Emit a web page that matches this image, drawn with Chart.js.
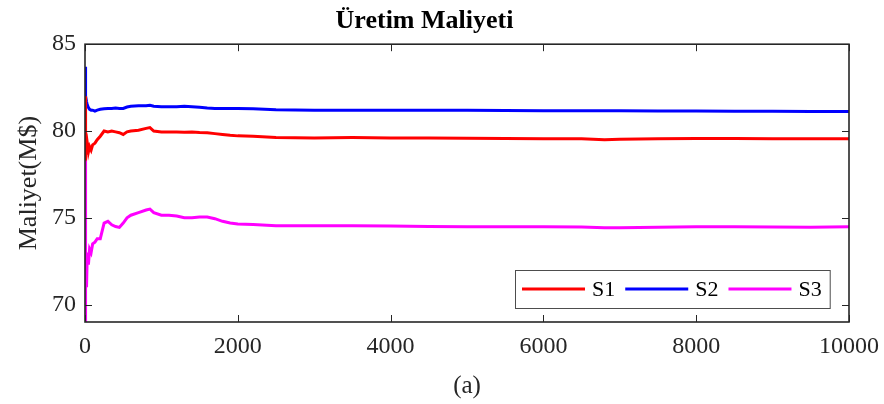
<!DOCTYPE html>
<html>
<head>
<meta charset="utf-8">
<title>Üretim Maliyeti</title>
<script src="https://cdn.jsdelivr.net/npm/chart.js@4.4.1/dist/chart.umd.min.js"></script>
<style>
  body { margin: 0; background: #fff; }
  #wrap { width: 884px; height: 404px; }
</style>
</head>
<body>
<div id="wrap"><canvas id="costChart" width="884" height="404"></canvas></div>
<script>
// iterations (x)
const iters = [0, 5, 10, 20, 30, 45, 60, 80, 100, 130, 160, 200, 250, 300, 350, 400, 450, 500, 550, 600,
  700, 800, 850, 900, 1000, 1100, 1200, 1300, 1400, 1500, 1600, 1700, 1800, 1900, 2000, 2200, 2500,
  3000, 3500, 4000, 4500, 5000, 5500, 6000, 6500, 6800, 7000, 7500, 8000, 8500, 9000, 9500, 10000];

const s1 = [82.0, 78.3, 79.8, 79.0, 79.3, 78.8, 79.1, 78.9, 79.2, 79.3, 79.5, 79.7, 80.0, 79.95, 80.0, 79.95, 79.9, 79.8, 79.95, 80.0,
  80.05, 80.15, 80.2, 80.0, 79.95, 79.95, 79.95, 79.93, 79.95, 79.92, 79.9, 79.85, 79.8, 79.75, 79.72, 79.7, 79.62,
  79.6, 79.62, 79.6, 79.6, 79.58, 79.57, 79.56, 79.55, 79.5, 79.52, 79.55, 79.57, 79.57, 79.56, 79.55, 79.55];

const s2 = [83.7, 82.4, 82.0, 81.7, 81.5, 81.35, 81.25, 81.2, 81.2, 81.15, 81.2, 81.25, 81.28, 81.3, 81.3, 81.32, 81.3, 81.3, 81.38, 81.42,
  81.45, 81.45, 81.48, 81.43, 81.4, 81.4, 81.4, 81.42, 81.4, 81.37, 81.33, 81.3, 81.3, 81.3, 81.3, 81.28, 81.22,
  81.2, 81.2, 81.2, 81.2, 81.2, 81.18, 81.17, 81.17, 81.16, 81.16, 81.15, 81.15, 81.14, 81.14, 81.13, 81.13];

const s3 = [79.4, 69.0, 72.0, 71.0, 73.0, 72.3, 73.2, 73.0, 73.5, 73.6, 73.8, 73.8, 74.7, 74.8, 74.6, 74.5, 74.45, 74.7, 75.0, 75.15,
  75.3, 75.45, 75.5, 75.3, 75.15, 75.15, 75.1, 75.0, 75.0, 75.05, 75.05, 74.95, 74.8, 74.7, 74.65, 74.62, 74.55,
  74.55, 74.55, 74.53, 74.5, 74.48, 74.48, 74.48, 74.47, 74.43, 74.43, 74.46, 74.48, 74.48, 74.47, 74.46, 74.48];

const seriesNames = ['S1', 'S2', 'S3'];
const seriesColors = ['#ff0000', '#0000ff', '#ff00ff'];
const xTicks = [0, 2000, 4000, 6000, 8000, 10000];
const yTicks = [70, 75, 80, 85];

const serif = "'Liberation Serif', 'Times New Roman', serif";
const axisColor = '#262626';

// box round the plot, inward ticks on all four sides, legend inside bottom right
const matlabAxes = {
  id: 'matlabAxes',
  afterDatasetsDraw(chart) {
    const { ctx, chartArea: a, scales } = chart;
    const len = 7;
    ctx.save();
    ctx.strokeStyle = axisColor;
    ctx.lineWidth = 1;
    ctx.beginPath();
    scales.x.ticks.forEach(t => {
      const px = Math.round(scales.x.getPixelForValue(t.value)) + 0.5;
      ctx.moveTo(px, a.bottom); ctx.lineTo(px, a.bottom - len);
      ctx.moveTo(px, a.top); ctx.lineTo(px, a.top + len);
    });
    scales.y.ticks.forEach(t => {
      const py = Math.round(scales.y.getPixelForValue(t.value)) + 0.5;
      ctx.moveTo(a.left, py); ctx.lineTo(a.left + len, py);
      ctx.moveTo(a.right, py); ctx.lineTo(a.right - len, py);
    });
    ctx.stroke();
    ctx.lineWidth = 1.6;
    ctx.strokeRect(a.left, a.top, a.right - a.left, a.bottom - a.top);

    // legend
    ctx.font = '22px ' + serif;
    const lineLen = 63, padL = 7, gapText = 7, gapItem = 10, padR = 8, h = 38;
    let w = padL + padR;
    chart.data.datasets.forEach((ds, i) => {
      w += lineLen + gapText + ctx.measureText(ds.label).width + (i > 0 ? gapItem : 0);
    });
    const bx = Math.round(a.right - 19 - w), by = Math.round(a.bottom - 14 - h);
    ctx.fillStyle = '#fff';
    ctx.fillRect(bx, by, w, h);
    ctx.strokeStyle = '#4d4d4d';
    ctx.lineWidth = 1;
    ctx.strokeRect(bx + 0.5, by + 0.5, w, h);
    let cx = bx + padL;
    const cy = by + h / 2;
    ctx.textBaseline = 'middle';
    chart.data.datasets.forEach((ds, i) => {
      if (i > 0) cx += gapItem;
      ctx.strokeStyle = ds.borderColor;
      ctx.lineWidth = 3;
      ctx.beginPath();
      ctx.moveTo(cx, cy); ctx.lineTo(cx + lineLen, cy);
      ctx.stroke();
      cx += lineLen + gapText;
      ctx.fillStyle = '#000';
      ctx.fillText(ds.label, cx, cy + 1);
      cx += ctx.measureText(ds.label).width;
    });
    ctx.restore();
  }
};

const datasets = [s1, s2, s3].map((vals, i) => ({
  label: seriesNames[i],
  data: iters.map((x, j) => ({ x: x, y: vals[j] })),
  borderColor: seriesColors[i],
  backgroundColor: seriesColors[i],
  borderWidth: 3,
  pointRadius: 0,
  tension: 0
}));

new Chart(document.getElementById('costChart'), {
  type: 'line',
  data: { datasets: datasets },
  plugins: [matlabAxes],
  options: {
    responsive: false,
    animation: false,
    devicePixelRatio: 1,
    layout: { padding: { left: 0, right: 35, top: 0, bottom: 0 } },
    plugins: {
      legend: { display: false },
      tooltip: { enabled: false },
      title: {
        display: true,
        text: 'Üretim Maliyeti',
        color: '#000',
        font: { family: serif, size: 26, weight: 'bold' },
        padding: { top: 6, bottom: 7 }
      }
    },
    scales: {
      x: {
        type: 'linear',
        min: 0,
        max: 10000,
        afterFit: s => { s.height = 82; s.paddingLeft = 0; s.paddingRight = 0; },
        afterBuildTicks: s => { s.ticks = xTicks.map(v => ({ value: v })); },
        grid: { display: false, drawTicks: false },
        border: { display: false },
        ticks: { color: axisColor, font: { family: serif, size: 24 }, padding: 10, maxRotation: 0, callback: v => String(v) },
        title: {
          display: true,
          text: '(a)',
          color: axisColor,
          font: { family: serif, size: 25 },
          padding: { top: 0, bottom: 3 }
        }
      },
      y: {
        min: 69,
        max: 85,
        afterFit: s => { s.width = 85; },
        afterBuildTicks: s => { s.ticks = yTicks.map(v => ({ value: v })); },
        grid: { display: false, drawTicks: false },
        border: { display: false },
        ticks: { color: axisColor, font: { family: serif, size: 24 }, padding: 9, callback: v => String(v) },
        title: {
          display: true,
          text: 'Maliyet(M$)',
          color: axisColor,
          font: { family: serif, size: 26 },
          padding: { top: 14, bottom: 0 }
        }
      }
    }
  }
});
</script>
</body>
</html>
